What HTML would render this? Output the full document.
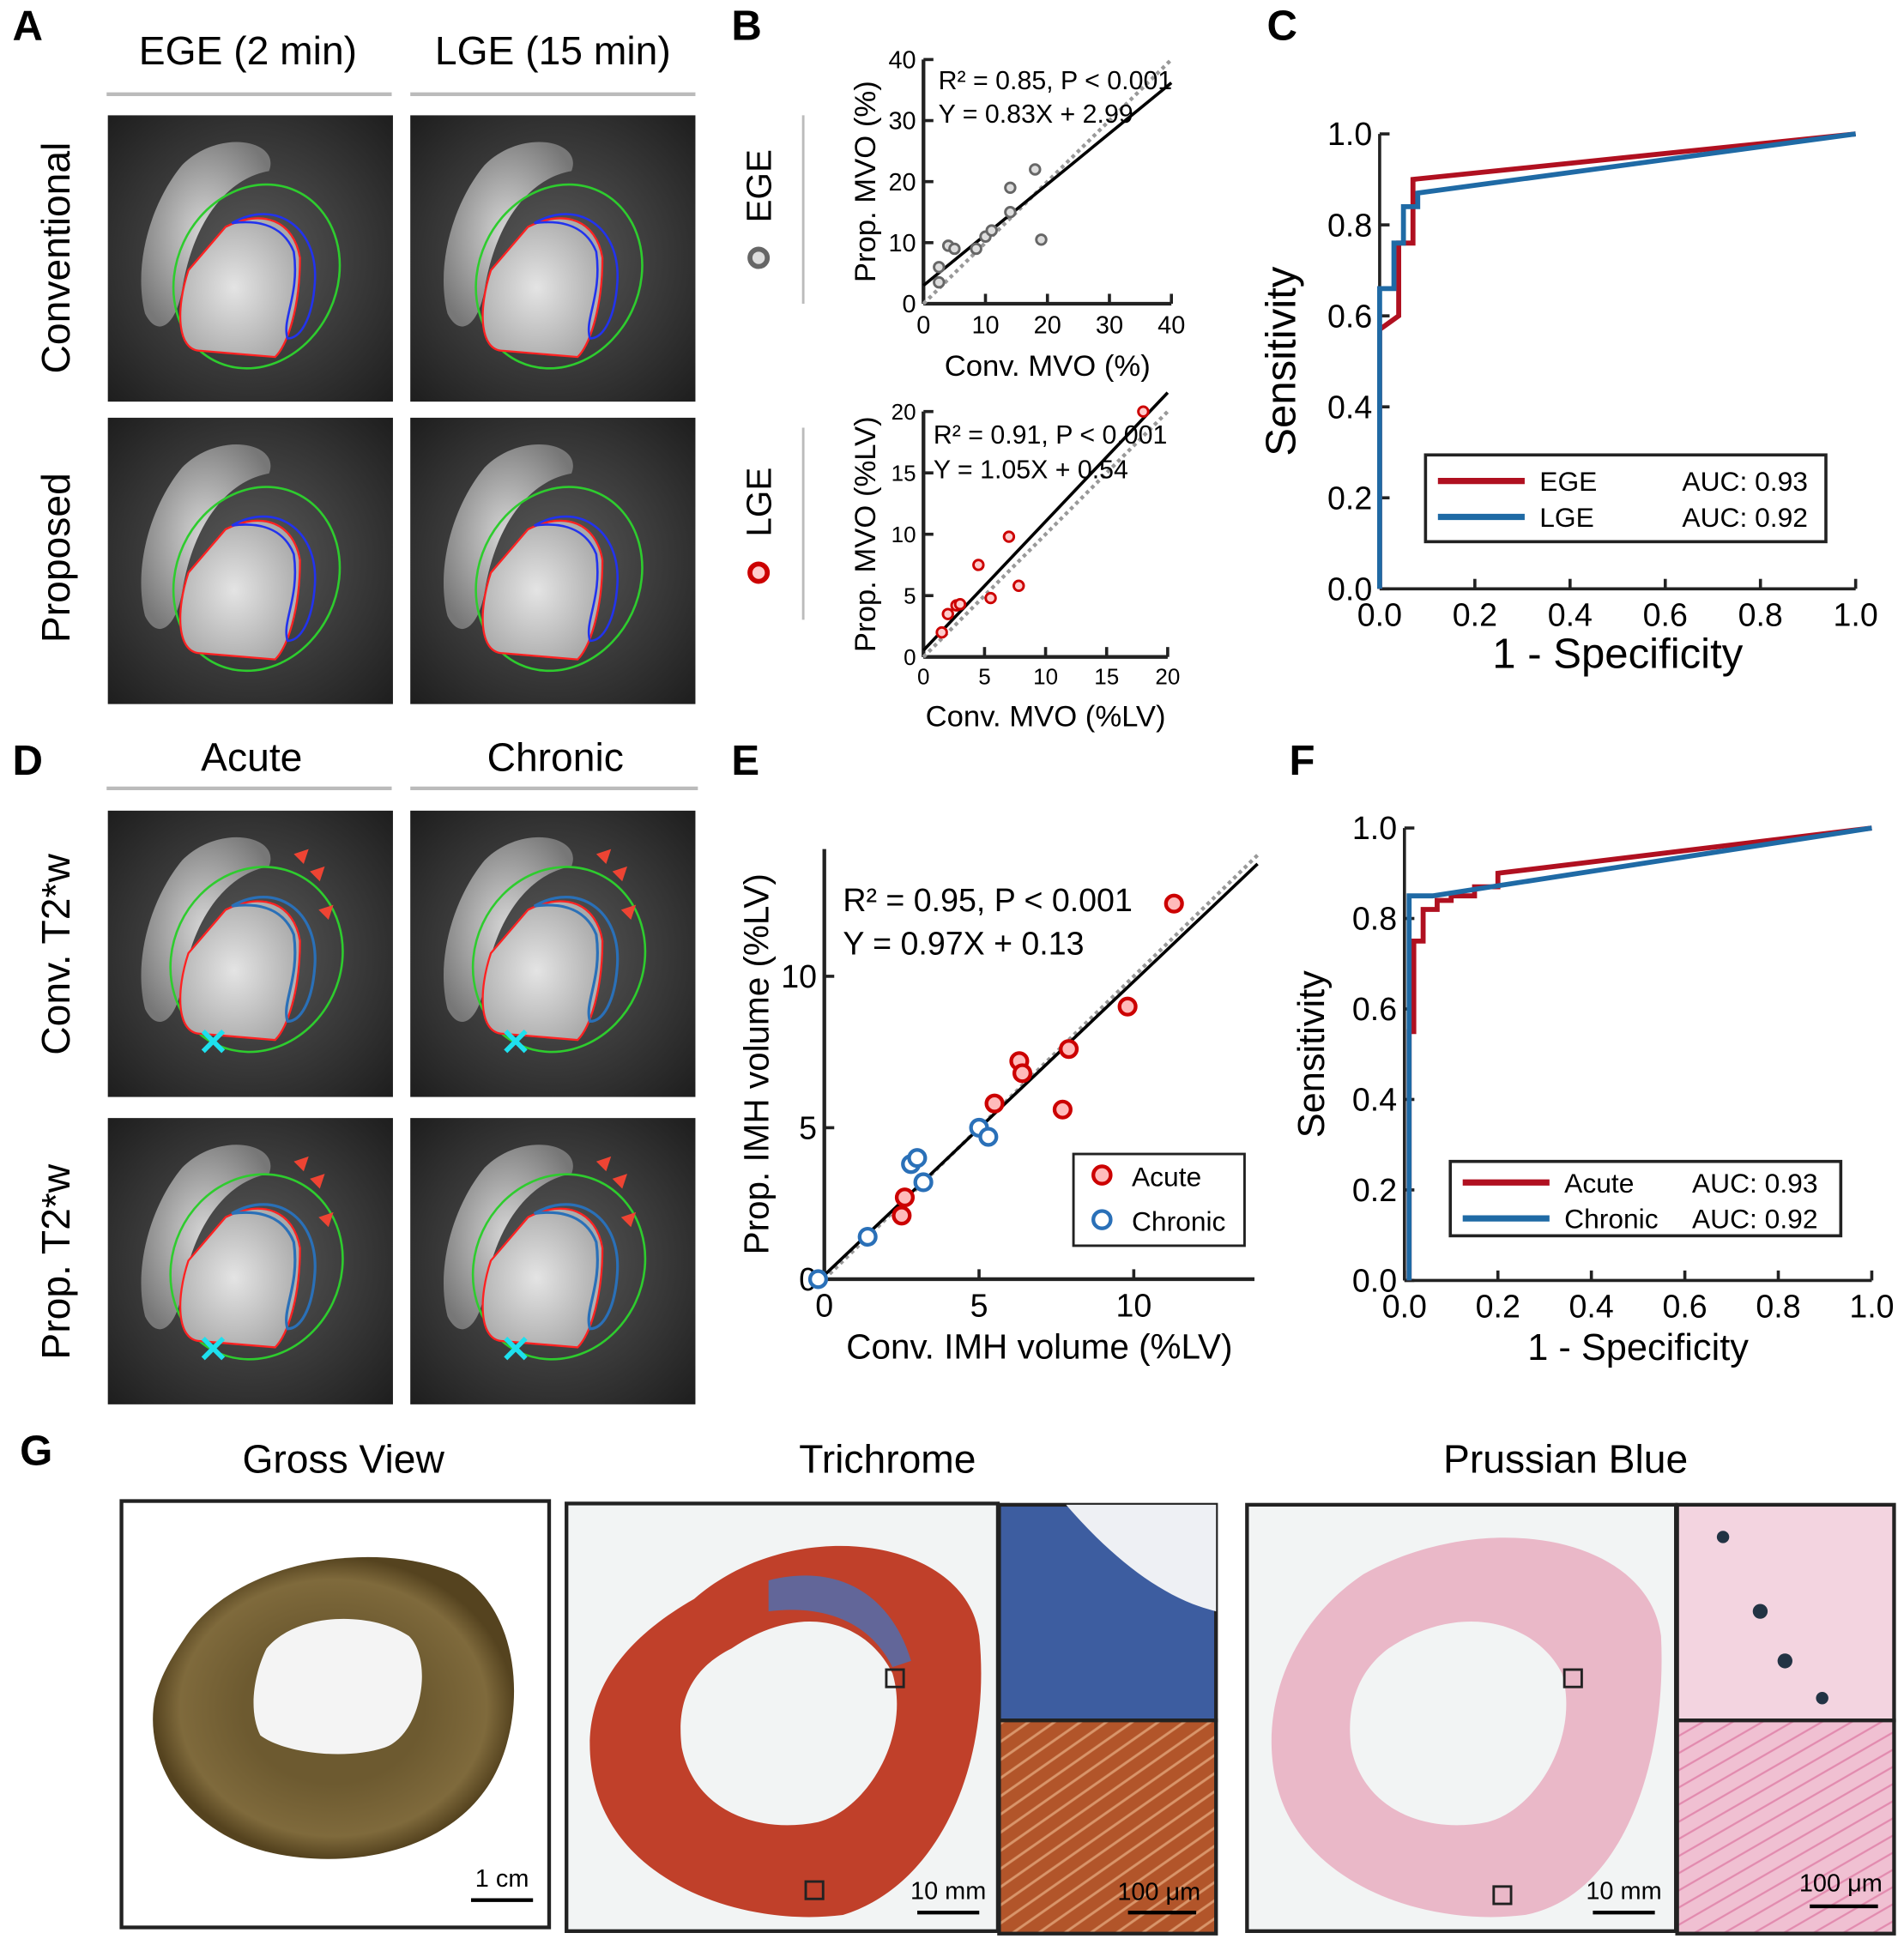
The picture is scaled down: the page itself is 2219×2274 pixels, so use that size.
<!DOCTYPE html>
<html><head><meta charset="utf-8"><style>
body{margin:0;background:#fff;}
svg{display:block;font-family:"Liberation Sans",sans-serif;}
</style></head><body>
<svg id="fig" width="2219" height="2274" viewBox="0 0 1536 1574" xmlns="http://www.w3.org/2000/svg">
<defs>
<radialGradient id="mriBg" cx="0.5" cy="0.5" r="0.7"><stop offset="0" stop-color="#5a5a5a"/><stop offset="1" stop-color="#1e1e1e"/></radialGradient>
<radialGradient id="pool" cx="0.45" cy="0.5" r="0.6"><stop offset="0" stop-color="#e4e4e4"/><stop offset="1" stop-color="#a8a8a8"/></radialGradient>
<radialGradient id="rv" cx="0.5" cy="0.5" r="0.6"><stop offset="0" stop-color="#d8d8d8"/><stop offset="1" stop-color="#777"/></radialGradient>
<radialGradient id="gross" cx="0.5" cy="0.5" r="0.5"><stop offset="0.5" stop-color="#6d5a30"/><stop offset="0.85" stop-color="#7f6a3c"/><stop offset="1" stop-color="#55431f"/></radialGradient>
<pattern id="fib" width="12" height="12" patternUnits="userSpaceOnUse" patternTransform="rotate(-35)"><rect width="12" height="12" fill="#b2552a"/><line x1="0" y1="6" x2="12" y2="6" stroke="#d9956a" stroke-width="2"/></pattern>
<pattern id="pfib" width="12" height="12" patternUnits="userSpaceOnUse" patternTransform="rotate(-30)"><rect width="12" height="12" fill="#f0c0d2"/><line x1="0" y1="6" x2="12" y2="6" stroke="#e28aae" stroke-width="1.5"/></pattern>
</defs>
<g id="static" font-size="30">
<text x="10" y="32" font-weight="bold" font-size="34">A</text>
<text x="200" y="52" text-anchor="middle" font-size="32">EGE (2 min)</text>
<text x="446" y="52" text-anchor="middle" font-size="32">LGE (15 min)</text>
<line x1="86" y1="76" x2="316" y2="76" stroke="#bbb" stroke-width="3"/><line x1="331" y1="76" x2="561" y2="76" stroke="#bbb" stroke-width="3"/>
<text transform="translate(56,208) rotate(-90)" text-anchor="middle" font-size="32">Conventional</text>
<text transform="translate(56,450) rotate(-90)" text-anchor="middle" font-size="32">Proposed</text>
<text x="590" y="32" font-weight="bold" font-size="34">B</text>
<text x="1022" y="32" font-weight="bold" font-size="34">C</text>
<text x="10" y="625" font-weight="bold" font-size="34">D</text>
<text x="203" y="622" text-anchor="middle" font-size="32">Acute</text>
<text x="448" y="622" text-anchor="middle" font-size="32">Chronic</text>
<line x1="86" y1="636" x2="316" y2="636" stroke="#bbb" stroke-width="3"/><line x1="331" y1="636" x2="563" y2="636" stroke="#bbb" stroke-width="3"/>
<text transform="translate(56,770) rotate(-90)" text-anchor="middle" font-size="32">Conv. T2*w</text>
<text transform="translate(56,1018) rotate(-90)" text-anchor="middle" font-size="32">Prop. T2*w</text>
<text x="590" y="625" font-weight="bold" font-size="34">E</text>
<text x="1040" y="625" font-weight="bold" font-size="34">F</text>
<text x="16" y="1182" font-weight="bold" font-size="34">G</text>
<text x="277" y="1188" text-anchor="middle" font-size="32">Gross View</text>
<text x="716" y="1188" text-anchor="middle" font-size="32">Trichrome</text>
<text x="1263" y="1188" text-anchor="middle" font-size="32">Prussian Blue</text>

<g>
<rect x="98" y="1211" width="345" height="344" fill="#fff" stroke="#222" stroke-width="3"/>
<path d="M150,1320 C190,1260 300,1240 370,1270 C420,1300 425,1380 400,1430 C370,1490 290,1510 220,1495 C150,1480 115,1420 125,1370 C130,1350 140,1335 150,1320Z" fill="url(#gross)"/>
<path d="M215,1330 C240,1300 300,1300 330,1320 C350,1340 340,1400 310,1410 C280,1420 230,1415 210,1400 C200,1380 205,1350 215,1330Z" fill="#f4f4f4"/>
<text x="405" y="1522" text-anchor="middle" font-size="20">1 cm</text><line x1="380" y1="1533" x2="430" y2="1533" stroke="#000" stroke-width="3"/>
</g>
<g>
<rect x="457" y="1213" width="348" height="345" fill="#f2f4f4" stroke="#222" stroke-width="3"/>
<path d="M560,1290 C640,1220 780,1240 790,1320 C800,1420 760,1520 680,1545 C600,1555 500,1520 480,1440 C465,1380 490,1330 560,1290Z" fill="#c0402a"/>
<path d="M590,1330 C650,1290 700,1310 720,1350 C735,1400 700,1460 660,1470 C610,1480 560,1460 550,1410 C545,1370 560,1345 590,1330Z" fill="#f2f4f4"/>
<path d="M620,1275 C680,1260 720,1290 735,1340 L720,1345 C700,1305 660,1295 620,1300Z" fill="#4a6fb5" opacity="0.8"/>
<rect x="715" y="1347" width="14" height="14" fill="none" stroke="#222" stroke-width="2"/><rect x="650" y="1518" width="14" height="14" fill="none" stroke="#222" stroke-width="2"/>
<text x="765" y="1532" text-anchor="middle" font-size="20">10 mm</text><line x1="740" y1="1543" x2="790" y2="1543" stroke="#000" stroke-width="3"/>
<rect x="806" y="1214" width="175" height="174" fill="#3d5da0" stroke="#222" stroke-width="3"/>
<path d="M860,1214 L981,1214 L981,1300 C940,1290 900,1260 860,1214Z" fill="#eef0f4"/>
<rect x="806" y="1388" width="175" height="172" fill="url(#fib)" stroke="#222" stroke-width="3"/>
<text x="935" y="1533" text-anchor="middle" font-size="20">100 μm</text><line x1="910" y1="1543" x2="965" y2="1543" stroke="#000" stroke-width="3"/>
</g>
<g>
<rect x="1006" y="1214" width="346" height="344" fill="#f2f4f4" stroke="#222" stroke-width="3"/>
<path d="M1100,1270 C1200,1215 1330,1240 1340,1320 C1345,1420 1310,1530 1230,1545 C1150,1555 1050,1520 1030,1440 C1015,1380 1040,1310 1100,1270Z" fill="#eab8c8"/>
<path d="M1120,1330 C1180,1290 1240,1310 1260,1350 C1275,1400 1240,1460 1200,1470 C1150,1480 1100,1460 1090,1410 C1085,1370 1100,1345 1120,1330Z" fill="#f2f4f4"/>
<rect x="1262" y="1347" width="14" height="14" fill="none" stroke="#222" stroke-width="2"/><rect x="1205" y="1522" width="14" height="14" fill="none" stroke="#222" stroke-width="2"/>
<text x="1310" y="1532" text-anchor="middle" font-size="20">10 mm</text><line x1="1285" y1="1543" x2="1335" y2="1543" stroke="#000" stroke-width="3"/>
<rect x="1353" y="1214" width="175" height="174" fill="#f3d4e0" stroke="#222" stroke-width="3"/>
<circle cx="1420" cy="1300" r="6" fill="#234"/><circle cx="1440" cy="1340" r="6" fill="#234"/><circle cx="1390" cy="1240" r="5" fill="#234"/><circle cx="1470" cy="1370" r="5" fill="#234"/>
<rect x="1353" y="1388" width="175" height="172" fill="url(#pfib)" stroke="#222" stroke-width="3"/>
<text x="1485" y="1526" text-anchor="middle" font-size="20">100 μm</text><line x1="1460" y1="1538" x2="1515" y2="1538" stroke="#000" stroke-width="3"/>
</g>
</g>
<g id="dyn"></g>
</svg>
<script>
const NS="http://www.w3.org/2000/svg";
const root=document.getElementById('dyn');
function el(t,a,p){const e=document.createElementNS(NS,t);for(const k in a)e.setAttribute(k,a[k]);(p||root).appendChild(e);return e;}
function txt(x,y,s,a,p){const e=el('text',Object.assign({x:x,y:y},a||{}),p);e.textContent=s;return e;}

const mriTiles=[[87,93,'mri-conv-ege'],[331,93,'mri-conv-lge'],[87,337,'mri-prop-ege'],[331,337,'mri-prop-lge'],
 [87,654,'mri-conv-acute'],[331,654,'mri-conv-chronic'],[87,902,'mri-prop-acute'],[331,902,'mri-prop-chronic']];
mriTiles.forEach((t,i)=>{
  const g=el('g',{transform:`translate(${t[0]},${t[1]})`});
  
  
  el('rect',{width:230,height:231,fill:'url(#mriBg)'},g);
  el('path',{d:'M60,40 C90,10 140,20 130,45 C100,50 70,80 60,140 C55,170 40,180 30,160 C20,120 35,70 60,40Z',fill:'url(#rv)'},g);
  const cx=105, cy=i<4?135:125;
  el('ellipse',{cx:cx+15,cy:cy-5,rx:i<4?65:68,ry:i<4?76:76,transform:`rotate(25 ${cx+15} ${cy-5})`,fill:'none',stroke:'#2ecc2e','stroke-width':1.8},g);
  el('path',{d:`M${cx-10},${cy-45} C${cx+20},${cy-60} ${cx+45},${cy-50} ${cx+50},${cy-20} C${cx+50},${cy+20} ${cx+40},${cy+50} ${cx+30},${cy+60} L${cx-30},${cy+55} C${cx-50},${cy+55} ${cx-50},${cy+20} ${cx-40},${cy-10} Z`,fill:'url(#pool)',stroke:'#f22','stroke-width':1.6},g);
  const blue=i<4?'#2233ee':'#2a70b8';
  el('path',{d:`M${cx-5},${cy-48} C${cx+30},${cy-68} ${cx+65},${cy-45} ${cx+62},${cy} C${cx+60},${cy+30} ${cx+50},${cy+45} ${cx+40},${cy+45} C${cx+35},${cy+30} ${cx+50},${cy+10} ${cx+45},${cy-25} C${cx+35},${cy-50} ${cx+10},${cy-50} ${cx-5},${cy-48}Z`,fill:'none',stroke:blue,'stroke-width':i<4?1.8:2.2},g);
  if(i>=4){
    el('path',{d:`M${cx+45},${cy-90} l12,-4 l-4,12 z M${cx+58},${cy-76} l12,-4 l-4,12 z M${cx+65},${cy-45} l12,-4 l-4,12 z`,fill:'#e43'},g);
    el('text',{x:cx-20,y:cy+72,'font-size':30,fill:'#1ee0ee','font-weight':'bold','text-anchor':'middle'},g).textContent='✕';
  }
});

function axes(o){
  const g=el('g',{});
  
  
  const X=v=>o.x0+(v-o.xmin)/(o.xmax-o.xmin)*(o.x1-o.x0);
  const Y=v=>o.y0-(v-o.ymin)/(o.ymax-o.ymin)*(o.y0-o.y1);
  el('line',{x1:o.x0,y1:o.y0,x2:o.x1,y2:o.y0,stroke:'#222','stroke-width':o.sw||3},g);
  el('line',{x1:o.x0,y1:o.y0,x2:o.x0,y2:o.y1,stroke:'#222','stroke-width':o.sw||3},g);
  o.xt.forEach((v,k)=>{el('line',{x1:X(v),y1:o.y0,x2:X(v),y2:o.y0-8,stroke:'#222','stroke-width':2.5},g);
    const t=txt(X(v),o.y0+o.fs+4,o.xl[k],{'text-anchor':'middle','font-size':o.fs},g);});
  o.yt.forEach((v,k)=>{el('line',{x1:o.x0,y1:Y(v),x2:o.x0+8,y2:Y(v),stroke:'#222','stroke-width':2.5},g);
    const t=txt(o.x0-6,Y(v)+o.fs*0.35,o.yl[k],{'text-anchor':'end','font-size':o.fs},g);});
  const xt=txt((o.x0+o.x1)/2,o.y0+o.fs+38,o.xtitle,{'text-anchor':'middle','font-size':o.tfs},g);
  
  const yt=txt(0,0,o.ytitle,{'text-anchor':'middle','font-size':o.tfs,transform:`translate(${o.ytx},${(o.y0+o.y1)/2}) rotate(-90)`},g);
  
  return {g,X,Y};
}
function fitLines(a,slope,icpt,xa,xb,g){
  el('line',{x1:a.X(xa),y1:a.Y(xa),x2:a.X(xb),y2:a.Y(xb),stroke:'#999','stroke-width':3,'stroke-dasharray':'3 3'},g);
  el('line',{x1:a.X(xa),y1:a.Y(slope*xa+icpt),x2:a.X(xb),y2:a.Y(slope*xb+icpt),stroke:'#000','stroke-width':2.5},g);
}

const b1X=[2.5,2.5,4,5,8.5,10,11,14,14,18,19];
const b1Y=[3.5,6,9.5,9,9,11,12,15,19,22,10.5];
const b1Ticks=[0,10,20,30,40];
const b1Labels=['0','10','20','30','40'];
const b1Fit=[0.83,2.99];
const b2X=[1.5,2,2.7,3,4.5,5.5,7,7.8,18];
const b2Y=[2,3.5,4.2,4.3,7.5,4.8,9.8,5.8,20];
const b2Ticks=[0,5,10,15,20];
const b2Labels=['0','5','10','15','20'];
const b2Fit=[1.05,0.54];
const eAcuteX=[11.3,9.8,7.9,6.3,6.4,5.5,7.7,2.6,2.5];
const eAcuteY=[12.4,9,7.6,7.2,6.8,5.8,5.6,2.7,2.1];
const eChronX=[-0.2,1.4,2.8,3.0,3.2,5.0,5.3];
const eChronY=[0,1.4,3.8,4.0,3.2,5.0,4.7];
const eTicks=[0,5,10];
const eLabels=['0','5','10'];
const eFit=[0.97,0.13];

let A=axes({name:'scatter-b-ege',x0:745,x1:945,y0:245,y1:48,xmin:0,xmax:40,ymin:0,ymax:40,xt:b1Ticks,xl:b1Labels,yt:b1Ticks,yl:b1Labels,fs:20,tfs:24,xtitle:'Conv. MVO (%)',ytitle:'Prop. MVO (%)',ytx:706});
fitLines(A,b1Fit[0],b1Fit[1],0,40,A.g);
b1X.forEach((v,i)=>{const c=el('circle',{cx:A.X(v),cy:A.Y(b1Y[i]),r:4,fill:'#ddd',stroke:'#666','stroke-width':2},A.g);});
txt(757,72,'R² = 0.85, P < 0.001',{'font-size':21},A.g);txt(757,99,'Y = 0.83X + 2.99',{'font-size':21},A.g);

A=axes({name:'scatter-b-lge',x0:745,x1:942,y0:530,y1:332,xmin:0,xmax:20,ymin:0,ymax:20,xt:b2Ticks,xl:b2Labels,yt:b2Ticks,yl:b2Labels,fs:18,tfs:24,xtitle:'Conv. MVO (%LV)',ytitle:'Prop. MVO (%LV)',ytx:706});
fitLines(A,b2Fit[0],b2Fit[1],0,20,A.g);
b2X.forEach((v,i)=>{const c=el('circle',{cx:A.X(v),cy:A.Y(b2Y[i]),r:4,fill:'#fcc',stroke:'#c00','stroke-width':2},A.g);});
txt(753,358,'R² = 0.91, P < 0.001',{'font-size':21},A.g);txt(753,386,'Y = 1.05X + 0.54',{'font-size':21},A.g);

txt(0,0,'EGE',{'font-size':28,transform:'translate(622,150) rotate(-90)','text-anchor':'middle'});
el('line',{x1:648,y1:93,x2:648,y2:245,stroke:'#bbb','stroke-width':2});
el('circle',{cx:612,cy:208,r:7,fill:'#ddd',stroke:'#666','stroke-width':4});
txt(0,0,'LGE',{'font-size':28,transform:'translate(622,405) rotate(-90)','text-anchor':'middle'});
el('line',{x1:648,y1:345,x2:648,y2:500,stroke:'#bbb','stroke-width':2});
el('circle',{cx:612,cy:462,r:7,fill:'#fcc',stroke:'#c00','stroke-width':4});

A=axes({name:'scatter-e-imh',x0:665,x1:1012,y0:1032,y1:685,xmin:0,xmax:13.9,ymin:0,ymax:14.2,xt:eTicks,xl:eLabels,yt:eTicks,yl:eLabels,fs:26,tfs:28,xtitle:'Conv. IMH volume (%LV)',ytitle:'Prop. IMH volume (%LV)',ytx:620});
fitLines(A,eFit[0],eFit[1],0,14,A.g);
eAcuteX.forEach((v,i)=>{const c=el('circle',{cx:A.X(v),cy:A.Y(eAcuteY[i]),r:6.5,fill:'#fbb',stroke:'#c00','stroke-width':3},A.g);});
eChronX.forEach((v,i)=>{const c=el('circle',{cx:A.X(v),cy:A.Y(eChronY[i]),r:6.5,fill:'#fff',stroke:'#2a70b8','stroke-width':3},A.g);});
txt(680,735,'R² = 0.95, P < 0.001',{'font-size':26},A.g);txt(680,770,'Y = 0.97X + 0.13',{'font-size':26},A.g);
const leg=el('g',{});
el('rect',{x:866,y:931,width:138,height:74,fill:'#fff',stroke:'#222','stroke-width':2},leg);
el('circle',{cx:889,cy:948,r:7,fill:'#fbb',stroke:'#c00','stroke-width':3},leg);txt(913,957,'Acute',{'font-size':22},leg);
el('circle',{cx:889,cy:984,r:7,fill:'#fff',stroke:'#2a70b8','stroke-width':3},leg);txt(913,993,'Chronic',{'font-size':22},leg);

const cEgeFpr=[0,0,0.04,0.04,0.07,0.07,1];
const cEgeTpr=[0,0.57,0.6,0.76,0.76,0.9,1];
const cLgeFpr=[0,0,0.03,0.03,0.05,0.05,0.08,0.08,1];
const cLgeTpr=[0,0.66,0.66,0.76,0.76,0.84,0.84,0.87,1];
const fAcFpr=[0.01,0.01,0.02,0.02,0.04,0.04,0.07,0.07,0.1,0.1,0.15,0.15,0.2,0.2,1];
const fAcTpr=[0,0.55,0.55,0.75,0.75,0.82,0.82,0.84,0.84,0.85,0.85,0.87,0.87,0.9,1];
const fChFpr=[0.01,0.01,0.06,1];
const fChTpr=[0,0.85,0.85,1];
const rocTicks=[0,0.2,0.4,0.6,0.8,1.0];
const rocLabels=['0.0','0.2','0.4','0.6','0.8','1.0'];
function roc(o,series,legend){
  const a=axes(Object.assign({xmin:0,xmax:1,ymin:0,ymax:1,xt:rocTicks,xl:rocLabels,yt:rocTicks,yl:rocLabels,xtitle:'1 - Specificity',ytitle:'Sensitivity',sw:2.5},o));
  series.forEach(s=>{const p=el('polyline',{points:s.x.map((v,i)=>a.X(v)+','+a.Y(s.y[i])).join(' '),fill:'none',stroke:s.c,'stroke-width':4},a.g);});
  const lg=el('g',{},a.g);
  el('rect',legend.box,lg);
  series.forEach((s,k)=>{const yy=legend.y+k*legend.dy;el('line',{x1:legend.x,y1:yy,x2:legend.x+legend.lw,y2:yy,stroke:s.c,'stroke-width':5},lg);
    txt(legend.x+legend.lw+12,yy+8,s.label,{'font-size':legend.fs},lg);txt(legend.ax,yy+8,s.auc,{'font-size':legend.fs},lg);});
}
roc({name:'roc-c',x0:1113,x1:1497,y0:475,y1:108,fs:26,tfs:34,ytx:1045},
 [{x:cEgeFpr,y:cEgeTpr,c:'#b01020',n:'roc-ege',label:'EGE',auc:'AUC: 0.93'},{x:cLgeFpr,y:cLgeTpr,c:'#1f6aa5',n:'roc-lge',label:'LGE',auc:'AUC: 0.92'}],
 {box:{x:1150,y:367,width:323,height:70,fill:'#fff',stroke:'#222','stroke-width':2.5},x:1160,lw:70,y:388,dy:29,fs:22,ax:1357});
roc({name:'roc-f',x0:1133,x1:1510,y0:1033,y1:668,fs:26,tfs:30,ytx:1068},
 [{x:fAcFpr,y:fAcTpr,c:'#b01020',n:'roc-acute',label:'Acute',auc:'AUC: 0.93'},{x:fChFpr,y:fChTpr,c:'#1f6aa5',n:'roc-chronic',label:'Chronic',auc:'AUC: 0.92'}],
 {box:{x:1170,y:937,width:315,height:60,fill:'#fff',stroke:'#222','stroke-width':2.5},x:1180,lw:70,y:954,dy:29,fs:22,ax:1365});
</script>
</body></html>
